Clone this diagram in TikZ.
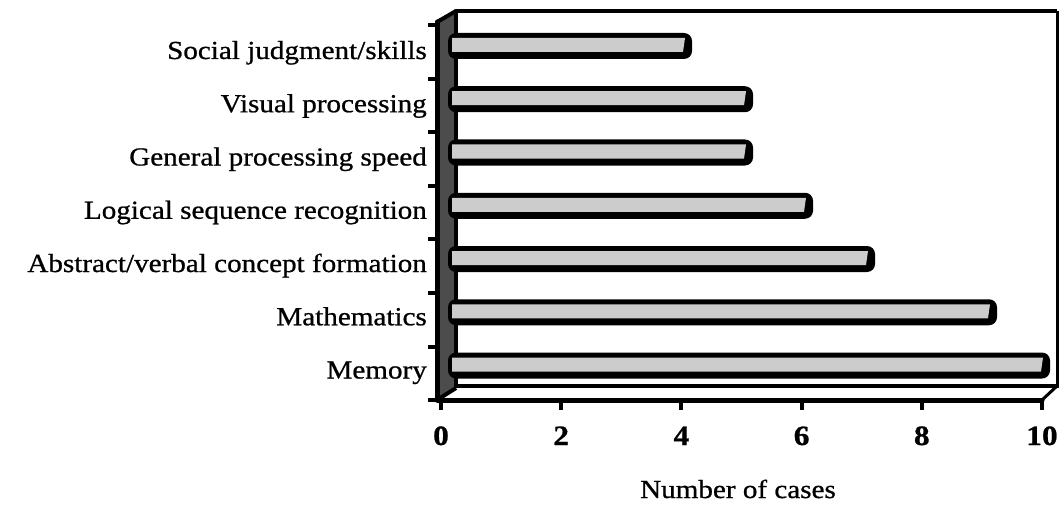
\documentclass[tikz,border=0pt]{standalone}
\usepackage{fontspec}
\setmainfont{Liberation Serif}[FakeStretch=1.12,FakeBold=0.8]
\tikzset{
  catlab/.style={anchor=base east, inner sep=0pt, font=\fontsize{26}{28}\selectfont},
  ticklab/.style={anchor=base, inner sep=0pt, font=\bfseries\fontsize{28}{30}\selectfont},
  axistitle/.style={anchor=base, inner sep=0pt, font=\fontsize{26}{28}\selectfont},
  frontline/.style={line width=5pt, line join=round, line cap=round},
  backline/.style={line width=4.5pt, line join=round},
  barblack/.style={fill=black, rounded corners=8pt},
  barface/.style={fill=black!20},
  wallfill/.style={fill=black!70},
}
\newcommand\chartbar[4]{% #1 name, #2 center y, #3 end x, #4 label
  \fill[barblack] (448,#2-13) rectangle (#3,#2+13);
  \fill[barface] (452,#2-8) -- (#3-7,#2-8) -- (#3-9,#2+6) -- (452,#2+6) -- cycle;
  \node[catlab] (#1) at (427,#2+13) {#4};
}
\begin{document}
\begin{tikzpicture}[x=1pt,y=-1pt]
\useasboundingbox (0,0) rectangle (1060,508);
\fill[white] (0,0) rectangle (1060,508);
% left side wall
\fill[wallfill] (437,22) -- (456,11) -- (456,388) -- (437,400) -- cycle;
% back wall frame
\draw[backline] (456,388) -- (456,11) -- (1057,11);
\draw[line width=3pt] (1057,11) -- (1057,388);
% floor back edge
\draw[backline] (456,386) -- (1057,386);
\draw[line width=3pt] (1057,386) -- (1042,400);
% bars
\chartbar{l1}{46}{692}{Social judgment/skills}
\chartbar{l2}{99.25}{753}{Visual processing}
\chartbar{l3}{152.5}{753}{General processing speed}
\chartbar{l4}{205.75}{813}{Logical sequence recognition}
\chartbar{l5}{259}{875}{Abstract/verbal concept formation}
\chartbar{l6}{312.25}{997}{Mathematics}
\chartbar{l7}{365.5}{1050}{Memory}
% front axes
\draw[line width=4pt] (437,22) -- (456,11);
\draw[line width=4pt] (437,400) -- (456,388);
\draw[frontline] (437,22) -- (437,400) -- (1042,400);
% left ticks
\foreach \k in {0,...,7}{
  \draw[line width=4pt] (428,25+53.6*\k) -- (437,25+53.6*\k);
}
% bottom ticks and labels
\foreach \v/\nm in {0/t0,2/t2,4/t4,6/t6,8/t8,10/t10}{
  \draw[line width=4pt] (441+60.1*\v,400) -- (441+60.1*\v,410);
  \node[ticklab] (\nm) at (441+60.1*\v,445) {\v};
}
\node[axistitle] (title) at (738,498) {Number of cases};
\end{tikzpicture}
\end{document}
